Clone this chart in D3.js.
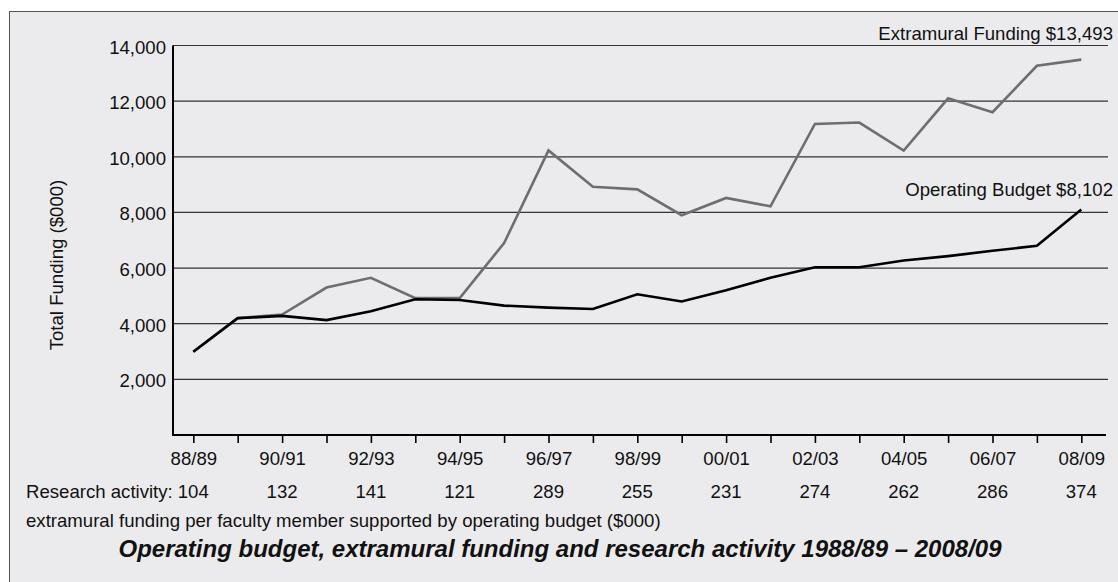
<!DOCTYPE html>
<html>
<head>
<meta charset="utf-8">
<script src="https://cdn.jsdelivr.net/npm/d3@7/dist/d3.min.js"></script>
<style>
  html, body { margin: 0; padding: 0; background: #ffffff; }
  svg { display: block; }
  text { font-family: "Liberation Sans", Arial, Helvetica, sans-serif; fill: #111; }
</style>
</head>
<body>
<svg id="chart" width="1118" height="582"></svg>
<script>
// ---- Data ----
const years = ["88/89","89/90","90/91","91/92","92/93","93/94","94/95","95/96","96/97","97/98",
               "98/99","99/00","00/01","01/02","02/03","03/04","04/05","05/06","06/07","07/08","08/09"];
const extramural = [2990, 4200, 4330, 5300, 5650, 4920, 4920, 6900, 10230, 8920,
                    8830, 7900, 8520, 8220, 11180, 11230, 10220, 12100, 11600, 13270, 13493];
const operating  = [2990, 4200, 4280, 4130, 4450, 4880, 4850, 4650, 4580, 4530,
                    5060, 4800, 5200, 5650, 6030, 6030, 6270, 6430, 6620, 6800, 8102];
const activityYears = ["88/89","90/91","92/93","94/95","96/97","98/99","00/01","02/03","04/05","06/07","08/09"];
const activity = [104, 132, 141, 121, 289, 255, 231, 274, 262, 286, 374];
const yTicks = [2000, 4000, 6000, 8000, 10000, 12000, 14000];

// ---- Layout ----
const svg = d3.select("#chart");
const FONT = 18.6;
const axisLeft = 173, axisRight = 1106, gridRight = 1108;

svg.append("rect")
  .attr("x", 9.5).attr("y", 11.5)
  .attr("width", 1130).attr("height", 600)
  .attr("fill", "#ebebed").attr("stroke", "#555").attr("stroke-width", 1);

const x = d3.scalePoint().domain(years).range([193.3, 1081.3]);
const y = d3.scaleLinear().domain([0, 14000]).range([435, 45.5]);

// Gridlines
svg.append("g").selectAll("line").data(yTicks).join("line")
  .attr("x1", axisLeft).attr("x2", gridRight)
  .attr("y1", d => y(d)).attr("y2", d => y(d))
  .attr("stroke", "#333").attr("stroke-width", 1.2);

// Y axis labels
svg.append("g").selectAll("text").data(yTicks).join("text")
  .attr("x", 166).attr("y", d => y(d) + 1.5)
  .attr("text-anchor", "end").attr("dominant-baseline", "central")
  .attr("font-size", FONT)
  .text(d => d3.format(",")(d));

// Y axis line
svg.append("line")
  .attr("x1", axisLeft).attr("x2", axisLeft)
  .attr("y1", y(14000)).attr("y2", 436)
  .attr("stroke", "#000").attr("stroke-width", 2);

// X axis
const xAxis = d3.axisBottom(x)
  .tickSize(8)
  .tickSizeOuter(0)
  .tickFormat((d, i) => (i % 2 === 0 ? d : ""));
const gx = svg.append("g").attr("transform", "translate(0,435)").call(xAxis);
gx.select(".domain").remove();
gx.selectAll(".tick line").attr("stroke", "#000").attr("stroke-width", 1.6);
gx.selectAll(".tick text")
  .attr("y", 17).attr("dy", "0.71em")
  .attr("font-size", FONT)
  .attr("font-family", "\"Liberation Sans\", Arial, Helvetica, sans-serif")
  .attr("fill", "#111");
svg.append("line")
  .attr("x1", axisLeft - 1).attr("x2", axisRight)
  .attr("y1", 435).attr("y2", 435)
  .attr("stroke", "#000").attr("stroke-width", 2);

// Lines
const line = d3.line().x((d, i) => x(years[i])).y(d => y(d));
svg.append("path").datum(extramural)
  .attr("d", line).attr("fill", "none")
  .attr("stroke", "#6e6e6e").attr("stroke-width", 2.6).attr("stroke-linejoin", "miter");
svg.append("path").datum(operating)
  .attr("d", line).attr("fill", "none")
  .attr("stroke", "#000").attr("stroke-width", 2.6).attr("stroke-linejoin", "miter");

// Line labels
svg.append("text")
  .attr("x", 1113).attr("y", 39.5).attr("text-anchor", "end")
  .attr("font-size", FONT)
  .text("Extramural Funding $" + d3.format(",")(extramural[extramural.length - 1]));
svg.append("text")
  .attr("x", 1113).attr("y", 196).attr("text-anchor", "end")
  .attr("font-size", FONT)
  .text("Operating Budget $" + d3.format(",")(operating[operating.length - 1]));

// Y axis title
svg.append("text")
  .attr("transform", "translate(63,265) rotate(-90)")
  .attr("text-anchor", "middle")
  .attr("font-size", FONT)
  .text("Total Funding ($000)");

// Research activity row
svg.append("text")
  .attr("x", 26).attr("y", 497.5)
  .attr("font-size", FONT)
  .text("Research activity:");
svg.append("g").selectAll("text").data(activity).join("text")
  .attr("x", (d, i) => x(activityYears[i])).attr("y", 497.5)
  .attr("text-anchor", "middle")
  .attr("font-size", FONT)
  .text(d => d);
svg.append("text")
  .attr("x", 26).attr("y", 527)
  .attr("font-size", FONT)
  .text("extramural funding per faculty member supported by operating budget ($000)");

// Title
svg.append("text")
  .attr("x", 560).attr("y", 557)
  .attr("text-anchor", "middle")
  .attr("font-size", 24)
  .attr("font-weight", "bold")
  .attr("font-style", "italic")
  .text("Operating budget, extramural funding and research activity 1988/89 – 2008/09");
</script>
</body>
</html>
